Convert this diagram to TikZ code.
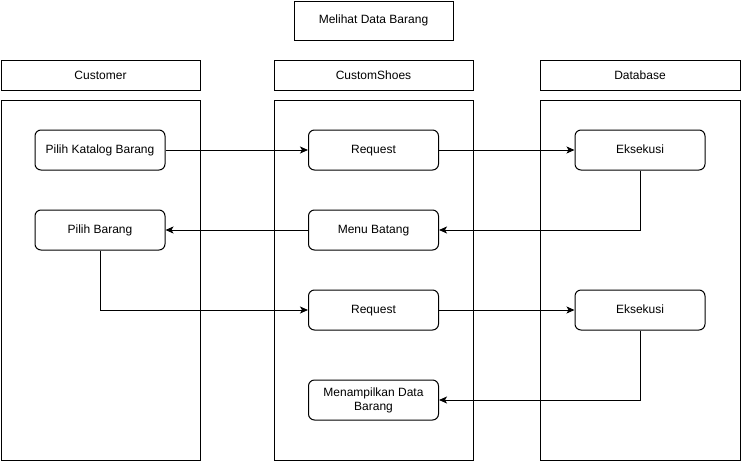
\documentclass[tikz,border=0pt]{standalone}
\usepackage{fontspec}
\setmainfont{Liberation Sans}
\usetikzlibrary{positioning, arrows.meta}

\begin{document}
\begin{tikzpicture}[
        x=1pt,
        y=-1pt,
        font=\fontsize{12}{14}\selectfont,
        line width=1pt,
        plainbox/.style={
            rectangle,
            draw,
            inner sep=0pt
        },
        lanebox/.style={
            rectangle,
            draw,
            inner sep=0pt,
            minimum height=360pt
        },
        actbox/.style={
            rectangle,
            draw,
            rounded corners=6pt,
            minimum width=130pt,
            minimum height=40pt,
            inner sep=2pt,
            align=center
        },
        oneline/.style={
            actbox,
            text height=9pt,
            text depth=3pt
        },
        flow/.style={
            -{Stealth[length=8pt,width=7pt,inset=2pt]}
        }
    ]

    \useasboundingbox (0,0) rectangle (741,461);

    % --------------------------------------------------------
    % Title
    % --------------------------------------------------------

    \node[
        plainbox,
        minimum width=159pt,
        minimum height=39pt
    ]
    (title)
    at (373.5,20.5)
    {Melihat Data Barang};

    % --------------------------------------------------------
    % Lane headers
    % --------------------------------------------------------

    \node[
        plainbox,
        minimum width=199pt,
        minimum height=30pt
    ]
    (hcustomer)
    at (100.5,75)
    {Customer};

    \node[
        plainbox,
        minimum width=199pt,
        minimum height=30pt
    ]
    (hshoes)
    at (373.5,75)
    {CustomShoes};

    \node[
        plainbox,
        minimum width=200pt,
        minimum height=30pt
    ]
    (hdatabase)
    at (640,75)
    {Database};

    % --------------------------------------------------------
    % Lanes
    % --------------------------------------------------------

    \node[
        lanebox,
        minimum width=199pt
    ]
    (lcustomer)
    at (100.5,280) {};

    \node[
        lanebox,
        minimum width=199pt
    ]
    (lshoes)
    at (373.5,280) {};

    \node[
        lanebox,
        minimum width=200pt
    ]
    (ldatabase)
    at (640,280) {};

    % --------------------------------------------------------
    % Actions
    % --------------------------------------------------------

    \node[oneline] (katalog) at (100,150) {Pilih Katalog Barang};
    \node[oneline] (request1) at (373.5,150) {Request};
    \node[oneline] (eksekusi1) at (640,150) {Eksekusi};

    \node[oneline] (pilih) at (100,230) {Pilih Barang};
    \node[oneline] (menu) at (373.5,230) {Menu Batang};

    \node[oneline] (request2) at (373.5,310) {Request};
    \node[oneline] (eksekusi2) at (640,310) {Eksekusi};

    \node[actbox] (tampil) at (373.5,400) {Menampilkan Data\\Barang};

    % --------------------------------------------------------
    % Flow
    % --------------------------------------------------------

    \draw[flow] (katalog) -- (request1);
    \draw[flow] (request1) -- (eksekusi1);
    \draw[flow] (eksekusi1) |- (menu);
    \draw[flow] (menu) -- (pilih);
    \draw[flow] (pilih) |- (request2);
    \draw[flow] (request2) -- (eksekusi2);
    \draw[flow] (eksekusi2) |- (tampil);

\end{tikzpicture}
\end{document}
